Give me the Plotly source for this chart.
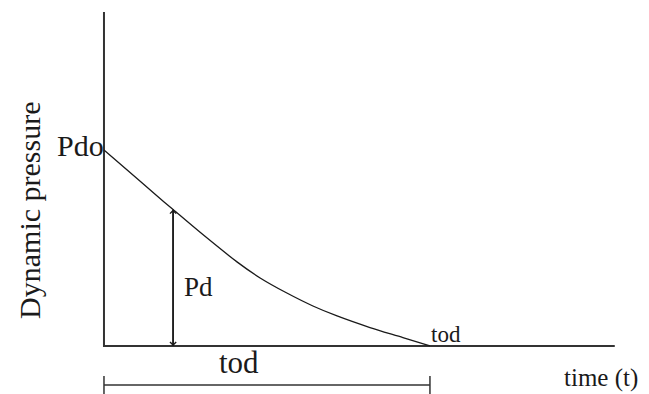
import plotly.graph_objects as go

# Schematic blast-wave dynamic pressure curve (time in units of tod, pressure in units of Pdo)
time_t = [0.0, 0.080, 0.156, 0.212, 0.294, 0.408, 0.479, 0.561, 0.641, 0.715, 0.816, 0.917, 1.0]
pressure = [1.0, 0.885, 0.775, 0.696, 0.581, 0.429, 0.347, 0.270, 0.204, 0.153, 0.094, 0.043, 0.0]
PD_INDEX = 3          # curve sample where Pd is marked
TOD = time_t[-1]
PDO = pressure[0]
T_AXIS_END = 1.567
P_AXIS_END = 1.704

labels = {
    "y": "Dynamic pressure",
    "x": "time (t)",
    "pdo": "Pdo",
    "pd": "Pd",
    "tod": "tod",
}

FONT = "Liberation Serif"
INK = "#1a1a1a"

fig = go.Figure()

# axes
fig.add_trace(go.Scatter(x=[0, 0, T_AXIS_END], y=[P_AXIS_END, 0, 0], mode="lines",
                         line=dict(color="#333333", width=2), hoverinfo="skip"))
# curve
fig.add_trace(go.Scatter(x=time_t, y=pressure, mode="lines",
                         line=dict(color=INK, width=1.3, shape="spline", smoothing=0.8),
                         hoverinfo="skip"))
# bracket below axis
br_y = -0.199
br_h = 0.046
fig.add_trace(go.Scatter(x=[0, 0, None, 0, TOD, None, TOD, TOD],
                         y=[br_y - br_h, br_y + br_h, None, br_y, br_y, None, br_y - br_h, br_y + br_h],
                         mode="lines", line=dict(color="#333333", width=1.5), hoverinfo="skip"))

tp = time_t[PD_INDEX]
pp = pressure[PD_INDEX]
# double-headed vertical arrow
fig.add_trace(go.Scatter(x=[tp, tp], y=[0, pp], mode="lines",
                         line=dict(color=INK, width=1.5), hoverinfo="skip"))
for yend, ystart in [(pp, 0.0), (0.0, pp)]:
    fig.add_annotation(x=tp, y=yend, ax=tp, ay=ystart, xref="x", yref="y", axref="x", ayref="y",
                       showarrow=True, arrowhead=4, arrowsize=1.2, arrowwidth=1, arrowcolor=INK, text="")

def label(text, x, y, size, xanchor="center", yanchor="middle", angle=0, xshift=0, yshift=0):
    fig.add_annotation(x=x, y=y, text=text, showarrow=False, xanchor=xanchor, yanchor=yanchor,
                       textangle=angle, xshift=xshift, yshift=yshift,
                       font=dict(family=FONT, size=size, color=INK))

label(labels["pdo"], 0, PDO, 30, xanchor="right", xshift=2, yshift=4)
label(labels["pd"], tp, 0.30, 27, xanchor="left", xshift=9)
label(labels["tod"], TOD, 0, 23, xanchor="left", yanchor="bottom", xshift=-1, yshift=-3)
label(labels["tod"], 0.414, -0.082, 31)
label(labels["x"], 1.405, -0.165, 25, xanchor="left")
label(labels["y"], -0.227, 0.694, 30, angle=-90)

fig.update_layout(
    width=649, height=394,
    margin=dict(l=0, r=0, t=0, b=0),
    paper_bgcolor="white", plot_bgcolor="white",
    showlegend=False,
    xaxis=dict(range=[-0.319, 1.672], visible=False, fixedrange=True),
    yaxis=dict(range=[-0.245, 1.765], visible=False, fixedrange=True),
)

fig.write_html("out.html", config={"displayModeBar": False},
               post_script="document.body.style.margin='0';document.body.style.overflow='hidden';")
